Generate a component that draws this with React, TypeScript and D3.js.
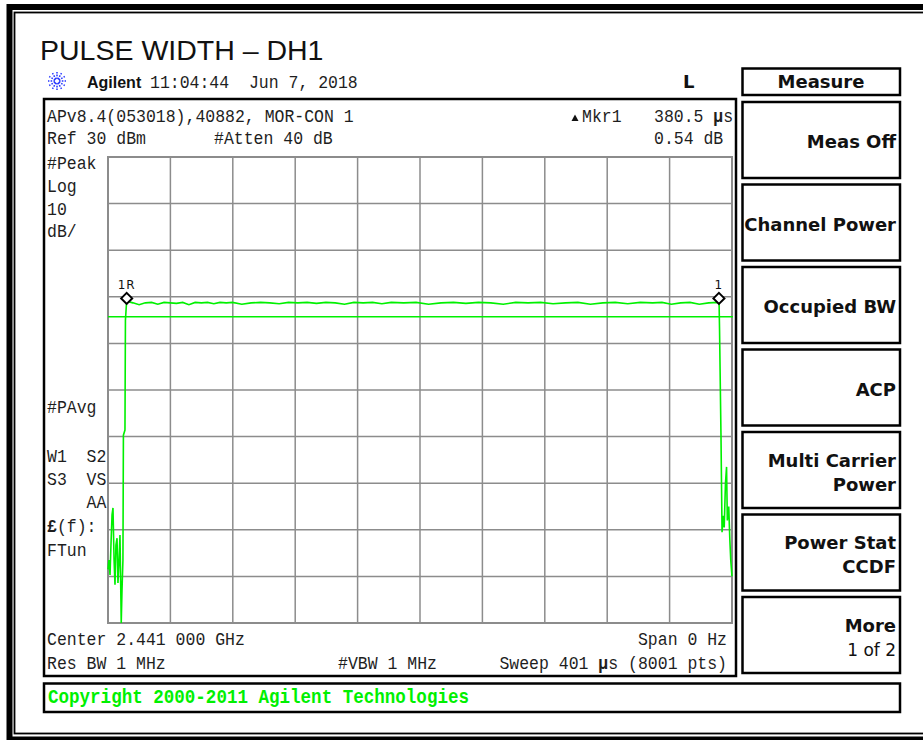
import React from "react";
import * as d3 from "d3";

const W = 923;
const H = 740;

// ---- instrument settings ----
const refLevel = 30; // dBm
const dbPerDiv = 10;
const divisions = 10;
const sweepTime = 401; // µs
const displayLine = -4.3; // dBm

// ---- trace (time µs, level dBm) ----
const traceTime = [
  0, 0.6, 1.3, 1.9, 2.6, 3.2, 3.9, 4.5, 5.1, 5.8, 6.4, 7.1, 7.7, 8.3, 8.5, 9.0, 9.6, 9.9, 10.9, 11.2, 11.9,
  12.5, 16, 20, 24, 28, 32, 36, 40, 44, 48, 52, 56, 60, 64, 68, 72, 76, 80, 86, 92, 98, 104, 110, 116, 122,
  128, 134, 140, 146, 152, 158, 164, 170, 176, 182, 190, 198, 206, 214, 222, 230, 238, 246, 254, 262, 270,
  278, 286, 294, 302, 310, 318, 326, 334, 342, 350, 356, 362, 368, 374, 380, 386, 392,
  392.7, 393.0, 393.9, 394.6, 395.4, 396.0, 396.8, 397.5, 398.0, 398.9, 399.6, 400.2, 401.0,
];
const traceLevel = [
  -58.5, -56.5, -59.7, -53.3, -46.8, -45.3, -56.5, -61.8, -53.3, -51.8, -61.4, -56.5, -51.1, -65.0, -70.0, -62.9, -56.5, -29.7, -28.6, -5.0, -1.3,
  -1.0, -1.3, -1.7, -1.3, -1.2, -1.6, -1.2, -1.3, -1.4, -1.2, -1.7, -1.2, -1.3, -1.2, -1.5, -1.2, -1.3, -1.2, -1.6, -1.3, -1.2, -1.3, -1.5, -1.2, -1.3,
  -1.2, -1.4, -1.2, -1.3, -1.6, -1.2, -1.3, -1.2, -1.5, -1.2, -1.3, -1.2, -1.6, -1.3, -1.2, -1.4, -1.2, -1.3, -1.6, -1.2, -1.3,
  -1.2, -1.5, -1.3, -1.2, -1.6, -1.3, -1.2, -1.5, -1.2, -1.3, -1.2, -1.6, -1.3, -1.2, -1.6, -1.3, -1.2,
  -1.3, -7.1, -29.2, -50.5, -47.0, -49.5, -40.0, -36.5, -48.0, -45.0, -52.0, -56.5, -60.0,
];

// ---- markers ----
const markerNames = ["1R", "1"];
const markerTimes = [12.0, 392.6];
const markerLevels = [-1.2, -1.2];

// ---- annotation text ----
const title = "PULSE WIDTH \u2013 DH1";
const leftLabels = ["#Peak", "Log", "10", "dB/"];
const leftLabels2 = ["#PAvg", "W1  S2", "S3  VS", "    AA", "FTun"];
const softkeys: string[][] = [
  ["Meas Off"],
  ["Channel Power"],
  ["Occupied BW"],
  ["ACP"],
  ["Multi Carrier", "Power"],
  ["Power Stat", "CCDF"],
  ["More", "1 of 2"],
];

const MONO = "'Liberation Mono', 'DejaVu Sans Mono', monospace";
const SANS = "'DejaVu Sans', 'Liberation Sans', sans-serif";
const MFS = 16.5; // Liberation Mono advance = 0.6em -> 9.9px per char
const STRETCH = 1.15; // instrument font is tall and narrow
const TXT = "#1e1e1e";
const GREEN = "#00f000";

type Part = string | { b: string };

function Mono({ x, y, parts, anchor = "start", fill = TXT }: { x: number; y: number; parts: Part[]; anchor?: string; fill?: string }) {
  return (
    <g transform={`translate(${x},${y}) scale(1,${STRETCH})`}>
      <text x={0} y={0} fontFamily={MONO} fontSize={MFS} textAnchor={anchor} fill={fill} style={{ whiteSpace: "pre" }}>
        {parts.map((p, i) =>
          typeof p === "string" ? (
            <tspan key={i}>{p}</tspan>
          ) : (
            <tspan key={i} fontWeight="bold">
              {p.b}
            </tspan>
          )
        )}
      </text>
    </g>
  );
}

export default function App() {
  // grid geometry
  const gx0 = 108,
    gx1 = 732,
    gy0 = 157,
    gy1 = 623;
  const x = d3.scaleLinear().domain([0, sweepTime]).range([gx0, gx1]);
  const y = d3
    .scaleLinear()
    .domain([refLevel - dbPerDiv * divisions, refLevel])
    .range([gy1, gy0]);
  const xDiv = d3.scaleLinear().domain([0, divisions]).range([gx0, gx1]);
  const yDiv = d3.scaleLinear().domain([0, divisions]).range([gy0, gy1]);

  const pts = traceTime.map((t, i) => [t, traceLevel[i]] as [number, number]);
  const line = d3
    .line<[number, number]>()
    .x((d) => x(d[0]))
    .y((d) => y(d[1]));

  const star = d3.range(12).map((i) => (i * Math.PI * 2) / 12);

  const keyTop = (i: number) => 102 + i * 82.5;

  return (
    <svg width={W} height={H} style={{ position: "absolute", left: 0, top: 0, background: "#fff" }}>
      <rect x={0} y={0} width={W} height={H} fill="#fff" />
      {/* outer frame */}
      <rect x={9.5} y={7} width={940} height={732.5} fill="none" stroke="#000" strokeWidth={6} />
      <rect x={14.5} y={12.5} width={930} height={721} fill="none" stroke="#000" strokeWidth={1.8} />

      {/* title */}
      <text x={40} y={60} fontFamily="'Liberation Sans', Arial, sans-serif" fontSize={28.5} fill="#111">
        {title}
      </text>

      {/* starburst logo */}
      <g transform="translate(57,81)">
        {star.map((a, i) => (
          <line
            key={i}
            x1={Math.cos(a) * 2}
            y1={Math.sin(a) * 2}
            x2={Math.cos(a) * 9}
            y2={Math.sin(a) * 9}
            stroke="#2233ff"
            strokeWidth={1.5}
            strokeDasharray="1.6 1.2"
          />
        ))}
      </g>
      <text x={87} y={88} fontFamily="'Liberation Sans', Arial, sans-serif" fontWeight="bold" fontSize={16} fill="#111">
        Agilent
      </text>
      <Mono x={150} y={88} parts={["11:04:44  Jun 7, 2018"]} />
      <text x={683} y={88} fontFamily={SANS} fontWeight="bold" fontSize={18} fill="#111">
        L
      </text>

      {/* plot box */}
      <rect x={44} y={99} width={692} height={577} fill="none" stroke="#000" strokeWidth={2.5} />

      <Mono x={47} y={122} parts={["APv8.4(053018),40882, MOR-CON 1"]} />
      <Mono x={47} y={144} parts={["Ref 30 dBm"]} />
      <Mono x={214} y={144} parts={["#Atten 40 dB"]} />
      <path d="M571.5,121 L575,114.5 L578.5,121 Z" fill="#111" />
      <Mono x={582} y={122} parts={["Mkr1"]} />
      <Mono x={654} y={122} parts={["380.5 ", { b: "\u00b5" }, "s"]} />
      <Mono x={654} y={144} parts={["0.54 dB"]} />

      {leftLabels.map((s, i) => (
        <Mono key={s} x={47} y={169 + i * 22.8} parts={[s]} />
      ))}
      <Mono x={47} y={413} parts={[leftLabels2[0]]} />
      <Mono x={47} y={462} parts={[leftLabels2[1]]} />
      <Mono x={47} y={485} parts={[leftLabels2[2]]} />
      <Mono x={47} y={508} parts={[leftLabels2[3]]} />
      <Mono x={47} y={532} parts={[{ b: "\u00a3" }, "(f):"]} />
      <Mono x={47} y={556} parts={[leftLabels2[4]]} />

      {/* grid */}
      <g stroke="#8c8c8c" strokeWidth={1.5}>
        {d3.range(1, divisions).map((i) => (
          <line key={"v" + i} x1={xDiv(i)} x2={xDiv(i)} y1={gy0} y2={gy1} />
        ))}
        {d3.range(1, divisions).map((i) => (
          <line key={"h" + i} x1={gx0} x2={gx1} y1={yDiv(i)} y2={yDiv(i)} />
        ))}
        <rect x={gx0} y={gy0} width={gx1 - gx0} height={gy1 - gy0} fill="none" strokeWidth={2} />
      </g>

      {/* display line */}
      <line x1={gx0} x2={gx1 + 1} y1={y(displayLine)} y2={y(displayLine)} stroke={GREEN} strokeWidth={1.5} />

      {/* trace */}
      <path d={line(pts) || ""} fill="none" stroke={GREEN} strokeWidth={1.6} />

      {/* markers */}
      {markerNames.map((m, i) => {
        const mx = x(markerTimes[i]);
        const my = y(markerLevels[i]) - 4;
        return (
          <g key={m}>
            <path
              d={`M${mx},${my - 5.5} L${mx + 5.5},${my} L${mx},${my + 5.5} L${mx - 5.5},${my} Z`}
              fill="#fff"
              stroke="#000"
              strokeWidth={2}
            />
            <text x={mx} y={my - 9} textAnchor="middle" fontFamily={SANS} fontSize={12} fill="#111" letterSpacing={1}>
              {m}
            </text>
          </g>
        );
      })}

      <Mono x={47} y={645} parts={["Center 2.441 000 GHz"]} />
      <Mono x={727} y={645} anchor="end" parts={["Span 0 Hz"]} />
      <Mono x={47} y={669} parts={["Res BW 1 MHz"]} />
      <Mono x={338} y={669} parts={["#VBW 1 MHz"]} />
      <Mono x={727} y={669} anchor="end" parts={["Sweep 401 ", { b: "\u00b5" }, "s (8001 pts)"]} />

      {/* copyright bar */}
      <rect x={44} y={683.5} width={856} height={28.5} fill="none" stroke="#000" strokeWidth={2.5} />
      <text
        x={48}
        y={703}
        fontFamily={MONO}
        fontWeight="bold"
        fontSize={20.5}
        fill={GREEN}
        textLength={421}
        lengthAdjust="spacingAndGlyphs"
      >
        Copyright 2000-2011 Agilent Technologies
      </text>

      {/* softkey menu */}
      <rect x={742.5} y={68.5} width={157.5} height={26.5} fill="none" stroke="#000" strokeWidth={2.5} />
      <text x={821} y={88} textAnchor="middle" fontFamily={SANS} fontWeight="bold" fontSize={18} fill="#111">
        Measure
      </text>
      {softkeys.map((lines, i) => {
        const top = keyTop(i);
        const c = top + 38.5;
        return (
          <g key={i}>
            <rect x={742.5} y={top} width={157.5} height={76} fill="none" stroke="#000" strokeWidth={2.5} />
            {lines.length === 1 ? (
              <text x={896} y={c + 7.5} textAnchor="end" fontFamily={SANS} fontWeight="bold" fontSize={18} fill="#111">
                {lines[0]}
              </text>
            ) : (
              <>
                <text x={896} y={c - 4} textAnchor="end" fontFamily={SANS} fontWeight="bold" fontSize={18} fill="#111">
                  {lines[0]}
                </text>
                <text
                  x={896}
                  y={c + 20}
                  textAnchor="end"
                  fontFamily={SANS}
                  fontWeight={lines[1] === "1 of 2" ? "normal" : "bold"}
                  fontSize={lines[1] === "1 of 2" ? 17 : 18}
                  fill="#111"
                >
                  {lines[1]}
                </text>
              </>
            )}
          </g>
        );
      })}
    </svg>
  );
}
